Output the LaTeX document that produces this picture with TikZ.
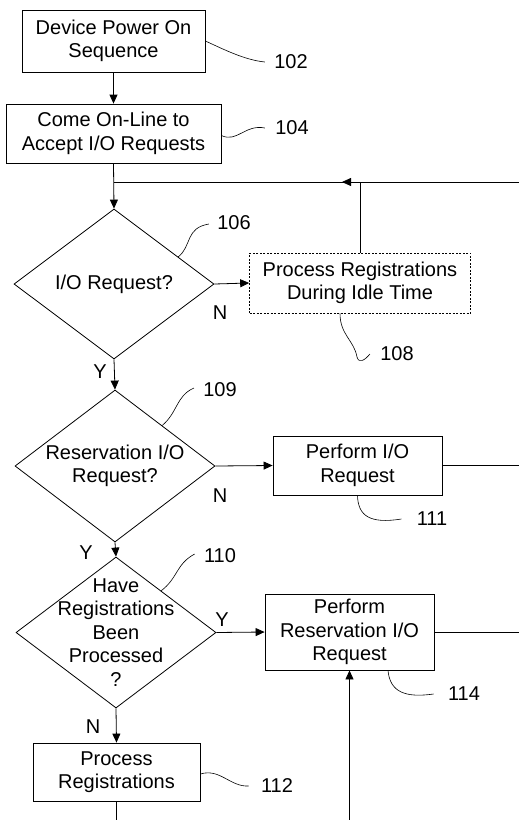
\documentclass[tikz,border=0pt]{standalone}
\usepackage{fontspec}
\setmainfont{Liberation Sans}
\usetikzlibrary{shapes.geometric,arrows.meta,calc}
\begin{document}
\begin{tikzpicture}[x=1pt,y=-1pt,
  font=\fontsize{20}{23.5}\selectfont,
  line width=0.8pt,
  box/.style={draw, align=center, inner sep=0pt},
  dbox/.style={box, dash pattern=on 2pt off 1.5pt, line width=0.6pt},
  dia/.style={draw, diamond, inner sep=0pt, minimum width=200pt, minimum height=150pt},
  txt/.style={align=center, inner sep=0pt},
  refnum/.style={inner sep=0pt},
  yn/.style={inner sep=0pt},
  arr/.style={-{Triangle[length=9pt,width=8pt]}},
  lead/.style={line width=0.6pt}]
\useasboundingbox (0,0) rectangle (519,820);

% boxes and decisions
\node[box, minimum width=183pt, minimum height=62pt] (b102) at (113.5,41) {Device Power On\\Sequence};
\node[box, minimum width=215pt, minimum height=59pt] (b104) at (113.5,133.5) {Come On-Line to\\Accept I/O Requests};
\node[dia] (d106) at (114,284) {};
\node[txt] (t106) at (d106.center) {I/O Request?};
\node[dbox, minimum width=221pt, minimum height=60pt] (b108) at (360,283) {Process Registrations\\During Idle Time};
\node[dia, minimum height=152pt] (d109) at (115,466) {};
\node[txt] (t109) at (d109.center) {Reservation I/O\\Request?};
\node[box, minimum width=169pt, minimum height=59pt] (b111) at (357.5,465.5) {Perform I/O\\Request};
\node[dia, minimum height=151pt] (d110) at (116,632.5) {};
\node[txt] (t110) at (d110.center) {Have\\Registrations\\Been\\Processed\\?};
\node[box, minimum width=169pt, minimum height=76pt] (b114) at (349.5,632) {Perform\\Reservation I/O\\Request};
\node[box, minimum width=167pt, minimum height=58pt] (b112) at (116.5,772) {Process\\Registrations};

% reference numerals
\node[refnum] (l102) at (291,62) {102};
\node[refnum] (l104) at (292,128) {104};
\node[refnum] (l106) at (234,223) {106};
\node[refnum] (l108) at (397,354) {108};
\node[refnum] (l109) at (220,390) {109};
\node[refnum] (l110) at (220,556) {110};
\node[refnum] (l111) at (432,519) {111};
\node[refnum] (l112) at (277,786) {112};
\node[refnum] (l114) at (464,694) {114};

% Y / N labels
\node[yn] (n106) at (220,313) {N};
\node[yn] (y106) at (100,372) {Y};
\node[yn] (n109) at (220,496) {N};
\node[yn] (y109) at (86,553) {Y};
\node[yn] (y110) at (222,620) {Y};
\node[yn] (n110) at (93,727) {N};

% free ends
\coordinate (rt) at (519,182);
\coordinate (jt) at (113.5,182);
\coordinate (ah) at (342,182);
\coordinate (r111) at (519,465.5);
\coordinate (r114) at (519,632);
\coordinate (bl) at (116.5,820);
\coordinate (br) at (349.5,820);

% connectors
\draw[arr] (b102.south) -- (b104.north);
\draw[arr] (b104.south) -- (d106.north);
\draw (rt) -- (jt);
\draw[arr] (b108.north) |- (ah);
\draw[arr] (d106.east) -- (b108.west);
\draw[arr] (d106.south) -- (d109.north);
\draw[arr] (d109.east) -- (b111.west);
\draw (b111.east) -- (r111);
\draw[arr] (d109.south) -- (d110.north);
\draw[arr] (d110.east) -- (b114.west);
\draw (b114.east) -- (r114);
\draw[arr] (d110.south) -- (b112.north);
\draw (b112.south) -- (bl);
\draw[arr] (br) -- (b114.south);

% leader lines
\draw[lead] (b102.east) .. controls (225,50) and (245,60) .. ([xshift=-9pt]l102.west);
\draw[lead] ([yshift=-2pt]b104.east) .. controls (237,143) and (245,124) .. ([xshift=-10pt]l104.west);
\draw[lead] ($(d106.north)!0.64!(d106.east)$) .. controls (192,246) and (185,228) .. ([xshift=-8pt,yshift=-1pt]l106.west);
\draw[lead] ([xshift=-20pt]b108.south) .. controls (340,335) and (354,340) .. (357,357) .. controls (359,364) and (365,360) .. ([xshift=-10pt]l108.west);
\draw[lead] ($(d109.north)!0.47!(d109.east)$) .. controls (178,412) and (176,396) .. ([xshift=-9pt,yshift=2pt]l109.west);
\draw[lead] ($(d110.north)!0.45!(d110.east)$) .. controls (178,578) and (176,564) .. ([xshift=-9pt,yshift=2pt]l110.west);
\draw[lead] (b111.south) .. controls (358,516) and (370,524) .. ([xshift=-15pt]l111.west);
\draw[lead] ([xshift=38.5pt]b114.south) .. controls (390,692) and (405,698) .. ([xshift=-14pt]l114.west);
\draw[lead] ([yshift=-2pt]b112.east) .. controls (220,768) and (230,787) .. ([xshift=-12pt]l112.west);
\end{tikzpicture}
\end{document}
